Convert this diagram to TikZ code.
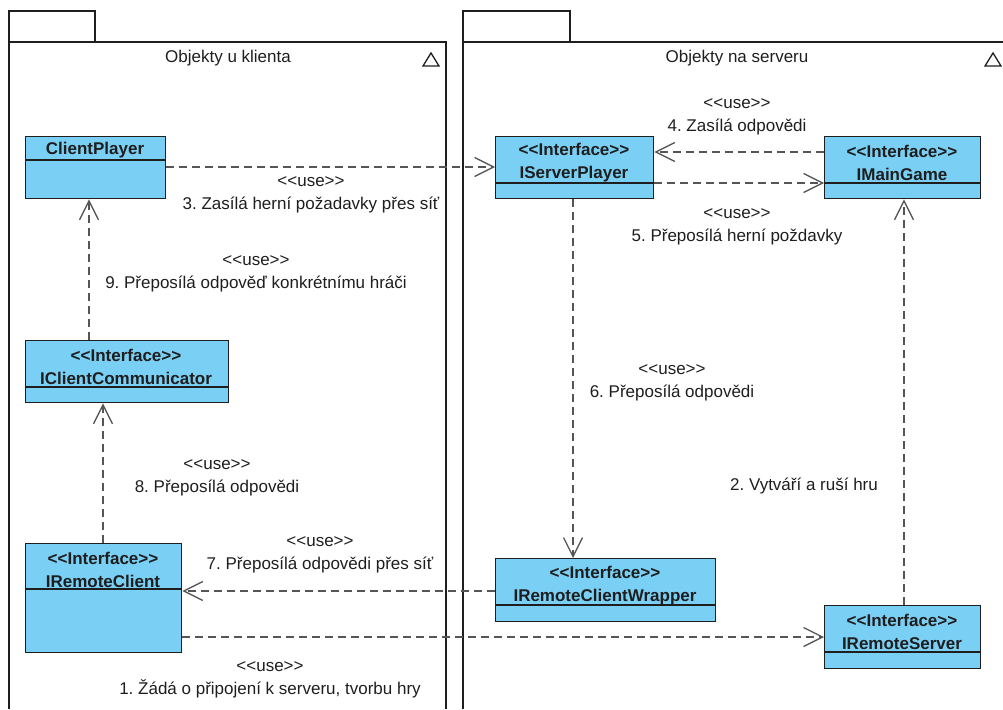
\documentclass[tikz,border=0pt]{standalone}
\usepackage{fontspec}
\setmainfont{Liberation Sans}
\usetikzlibrary{arrows.meta, positioning}

\definecolor{classblue}{RGB}{122,207,245}
\definecolor{linegray}{RGB}{85,85,85}
\definecolor{inkgray}{RGB}{30,30,30}

\newcommand{\stereo}[1]{<\kern0pt<#1>\kern0pt>}
\frenchspacing

\begin{document}
\begin{tikzpicture}[x=1pt, y=-1pt,
    every node/.style={font=\fontsize{17}{23}\selectfont, text=inkgray},
    classbox/.style={draw=inkgray, line width=1.4pt, fill=classblue, inner sep=0pt, anchor=north west},
    classtext/.style={font=\fontsize{17}{23}\selectfont\bfseries, inner sep=0pt, align=center, yshift=-2.5pt},
    classline/.style={draw=inkgray, line width=1.4pt},
    pkg/.style={draw=inkgray, line width=1.3pt},
    lbl/.style={inner sep=0pt, align=center, yshift=-3pt},
    use/.style={draw=linegray, line width=1.3pt, dash pattern=on 8pt off 5pt,
        -{Straight Barb[length=19pt, width=19pt]}}]
    \useasboundingbox (0,0) rectangle (1003,709);

    % packages
    \draw[pkg] (9,709) -- (9,11) -- (95,11) -- (95,42);
    \draw[pkg] (9,42) -- (446,42) -- (446,709);
    \node[lbl] (clientpkg) at (228,55) {Objekty u klienta};
    \draw[pkg] (423,66) -- (439,66) -- (431,53) -- cycle;

    \draw[pkg] (463,709) -- (463,11) -- (570,11) -- (570,42);
    \draw[pkg] (463,42) -- (1003,42);
    \node[lbl] (serverpkg) at (737,55) {Objekty na serveru};
    \draw[pkg] (985,66) -- (1001,66) -- (993,53) -- cycle;

    % classes
    \node[classbox, minimum width=140pt, minimum height=62pt] (cp) at (25,136) {};
    \node[classtext] (cpname) at (95,148) {ClientPlayer};
    \draw[classline] ([yshift=-24pt]cp.north west) -- ([yshift=-24pt]cp.north east);

    \node[classbox, minimum width=158pt, minimum height=62pt] (sp) at (495,136) {};
    \node[classtext] (spname) at (574,160) {\stereo{Interface}\\IServerPlayer};
    \draw[classline] ([yshift=-47pt]sp.north west) -- ([yshift=-47pt]sp.north east);

    \node[classbox, minimum width=156pt, minimum height=62pt] (mg) at (824,136) {};
    \node[classtext] (mgname) at (902,160) {\stereo{Interface}\\IMainGame};
    \draw[classline] ([yshift=-47pt]mg.north west) -- ([yshift=-47pt]mg.north east);

    \node[classbox, minimum width=203pt, minimum height=62pt] (cc) at (25,340) {};
    \node[classtext] (ccname) at (126,364) {\stereo{Interface}\\IClientCommunicator};
    \draw[classline] ([yshift=-47pt]cc.north west) -- ([yshift=-47pt]cc.north east);

    \node[classbox, minimum width=156pt, minimum height=109pt] (rc) at (25,543) {};
    \node[classtext] (rcname) at (103,567) {\stereo{Interface}\\IRemoteClient};
    \draw[classline] ([yshift=-46pt]rc.north west) -- ([yshift=-46pt]rc.north east);

    \node[classbox, minimum width=220pt, minimum height=63pt] (rw) at (495,558) {};
    \node[classtext] (rwname) at (605,583) {\stereo{Interface}\\IRemoteClientWrapper};
    \draw[classline] ([yshift=-47pt]rw.north west) -- ([yshift=-47pt]rw.north east);

    \node[classbox, minimum width=156pt, minimum height=63pt] (rs) at (824,605) {};
    \node[classtext] (rsname) at (902,629) {\stereo{Interface}\\IRemoteServer};
    \draw[classline] ([yshift=-47pt]rs.north west) -- ([yshift=-47pt]rs.north east);

    % dependencies
    \draw[use] ([yshift=-31pt]cp.north east) -- ([yshift=-31pt]sp.north west);
    \draw[use] ([yshift=-16pt]mg.north west) -- ([yshift=-16pt]sp.north east);
    \draw[use] ([yshift=-47pt]sp.north east) -- ([yshift=-47pt]mg.north west);
    \draw[use] ([xshift=64pt]cc.north west) -- ([xshift=64pt]cp.south west);
    \draw[use] ([xshift=78pt]sp.south west) -- ([xshift=78pt]rw.north west);
    \draw[use] ([xshift=80pt]rs.north west) -- ([xshift=80pt]mg.south west);
    \draw[use] ([xshift=78pt]rc.north west) -- ([xshift=78pt]cc.south west);
    \draw[use] ([yshift=-33pt]rw.north west) -- ([yshift=-48pt]rc.north east);
    \draw[use] ([yshift=-94pt]rc.north east) -- ([yshift=-32pt]rs.north west);

    % labels
    \node[lbl] (l1) at (270,677) {\stereo{use}\\1. Žádá o připojení k serveru, tvorbu hry};
    \node[lbl] (l2) at (804,483) {2. Vytváří a ruší hru};
    \node[lbl] (l3) at (311,192) {\stereo{use}\\3. Zasílá herní požadavky přes síť};
    \node[lbl] (l4) at (737,114) {\stereo{use}\\4. Zasílá odpovědi};
    \node[lbl] (l5) at (737,224) {\stereo{use}\\5. Přeposílá herní poždavky};
    \node[lbl] (l6) at (672,380) {\stereo{use}\\6. Přeposílá odpovědi};
    \node[lbl] (l7) at (320,552) {\stereo{use}\\7. Přeposílá odpovědi přes síť};
    \node[lbl] (l8) at (217,475) {\stereo{use}\\8. Přeposílá odpovědi};
    \node[lbl] (l9) at (256,271) {\stereo{use}\\9. Přeposílá odpověď konkrétnímu hráči};
\end{tikzpicture}
\end{document}
